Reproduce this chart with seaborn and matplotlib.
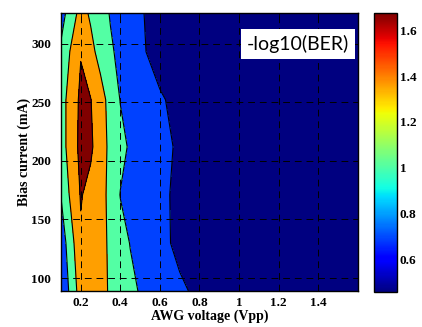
import numpy as np
import matplotlib
matplotlib.use("Agg")
import matplotlib.pyplot as plt
import seaborn as sns
from matplotlib.colors import Normalize
from matplotlib.cm import ScalarMappable
from matplotlib.ticker import FuncFormatter

# -- Data ------------------------------------------------------------------
awg_voltage = [0.1, 0.15, 0.2, 0.25, 0.3, 0.35, 0.4, 0.45, 0.5, 0.6, 0.7, 0.8, 1.0, 1.2, 1.4, 1.6]
bias_current = [89, 130, 171, 212, 252, 293, 326]

# -log10(BER), one list per bias current
ber_89  = [0.72, 1.08, 1.45, 1.40, 1.35, 1.28, 1.17, 1.07, 0.98, 0.86, 0.74, 0.65, 0.57, 0.53, 0.51, 0.50]
ber_130 = [0.82, 1.18, 1.56, 1.46, 1.37, 1.26, 1.12, 0.99, 0.92, 0.77, 0.64, 0.60, 0.54, 0.51, 0.50, 0.49]
ber_171 = [1.01, 1.36, 1.62, 1.51, 1.40, 1.22, 0.99, 0.94, 0.87, 0.75, 0.65, 0.59, 0.53, 0.50, 0.49, 0.48]
ber_212 = [1.16, 1.44, 1.674, 1.65, 1.43, 1.23, 1.09, 0.96, 0.91, 0.78, 0.66, 0.60, 0.54, 0.51, 0.50, 0.49]
ber_252 = [1.18, 1.42, 1.66, 1.61, 1.41, 1.20, 0.99, 0.93, 0.87, 0.72, 0.65, 0.58, 0.52, 0.50, 0.49, 0.48]
ber_293 = [1.05, 1.33, 1.585, 1.38, 1.20, 1.04, 0.93, 0.84, 0.73, 0.63, 0.57, 0.53, 0.50, 0.49, 0.48, 0.47]
ber_326 = [0.88, 1.14, 1.405, 1.26, 1.12, 0.98, 0.90, 0.81, 0.72, 0.62, 0.56, 0.52, 0.49, 0.48, 0.47, 0.46]

levels = [0.4, 0.7, 1.0, 1.3, 1.6, 1.7]
band_pos = [0.0, 0.19, 0.45, 0.74, 1.0]   # where each filled band sits on the jet map

x_ticks = [0.2, 0.4, 0.6, 0.8, 1.0, 1.2, 1.4]
y_ticks = [100, 150, 200, 250, 300]
cbar_ticks = [0.6, 0.8, 1.0, 1.2, 1.4, 1.6]

Z = np.array([ber_89, ber_130, ber_171, ber_212, ber_252, ber_293, ber_326])
X, Y = np.meshgrid(awg_voltage, bias_current)

# -- Style -----------------------------------------------------------------
sns.set_theme(style="white")
plt.rcParams["font.family"] = ["Liberation Serif", "DejaVu Serif"]
plt.rcParams["font.weight"] = "bold"
plt.rcParams["axes.labelweight"] = "bold"

jet = matplotlib.colormaps["jet"]
band_colors = [jet(p) for p in band_pos]
fmt = FuncFormatter(lambda v, _: f"{v:g}")

fig = plt.figure(figsize=(4.22, 3.27), dpi=100)
ax = fig.add_axes([0.1445, 0.110, 0.703, 0.850])
cax = fig.add_axes([0.886, 0.107, 0.0545, 0.853])

ax.contourf(X, Y, Z, levels=levels, colors=band_colors, zorder=1)
ax.contour(X, Y, Z, levels=levels[1:-1], colors="black", linewidths=0.8, zorder=2)

ax.set_xlim(min(awg_voltage), max(awg_voltage))
ax.set_ylim(min(bias_current), max(bias_current))
ax.set_xticks(x_ticks)
ax.set_yticks(y_ticks)
ax.xaxis.set_major_formatter(fmt)
ax.set_axisbelow(False)
ax.grid(True, color="black", linestyle=(0, (7, 5)), linewidth=0.7)
ax.tick_params(direction="in", top=True, right=True, length=3, width=0.6,
               labelsize=9.5, colors="black")
ax.tick_params(axis="x", pad=4)
ax.tick_params(axis="y", pad=7)
for s in ax.spines.values():
    s.set_color("black")
    s.set_linewidth(1.0)

ax.set_xlabel("AWG voltage (Vpp)", fontsize=10, color="black", labelpad=1)
ax.set_ylabel("Bias current (mA)", fontsize=10, color="black", labelpad=0.5)

ax.text(0.798, 0.888, "-log10(BER)", transform=ax.transAxes, ha="center", va="center",
        fontsize=14, fontweight="normal", family=["Lato", "DejaVu Sans"], color="black",
        bbox=dict(boxstyle="square,pad=0.3", facecolor="white", edgecolor="none"),
        zorder=5)

# -- Colorbar ----------------------------------------------------------------
sm = ScalarMappable(norm=Normalize(Z.min(), Z.max()), cmap=jet)
cbar = fig.colorbar(sm, cax=cax)
cbar.set_ticks(cbar_ticks)
cbar.ax.yaxis.set_major_formatter(fmt)
cbar.ax.tick_params(direction="in", left=True, right=True, length=3, width=0.6,
                    labelsize=9.5, colors="black", pad=2)
cbar.outline.set_edgecolor("black")
cbar.outline.set_linewidth(1.0)

fig.savefig("out.png", dpi=100)
plt.close(fig)
